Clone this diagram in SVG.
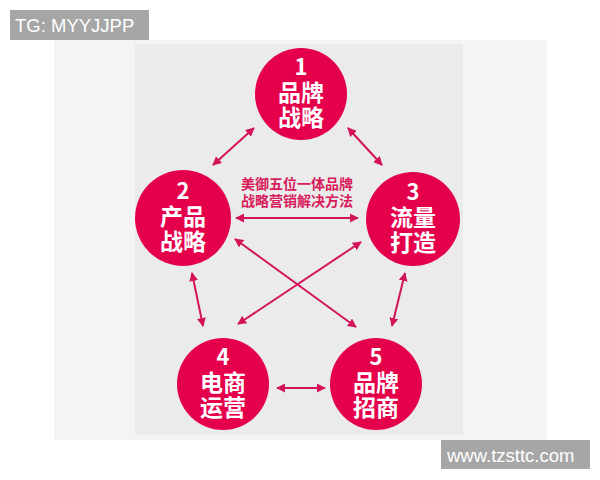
<svg xmlns="http://www.w3.org/2000/svg" width="600" height="480" viewBox="0 0 600 480">
<style>
.node{fill:#e5004c}
.lbl{font-family:"Noto Sans CJK SC",sans-serif;font-weight:700;font-size:23px;fill:#fff;text-anchor:middle}
.num{font-family:"Noto Sans CJK SC","Noto Sans",sans-serif;font-size:22px}
.mid{font-family:"Noto Sans CJK SC",sans-serif;font-weight:700;font-size:14px;fill:#d81b5a;text-anchor:middle}
.conn line{stroke:#d3145a;stroke-width:2;marker-start:url(#ah);marker-end:url(#ah)}
.tag{font-family:"Liberation Sans",Arial,sans-serif;font-size:18.5px;fill:#fff}
</style>
<defs>
<marker id="ah" viewBox="0 0 10 10" refX="9" refY="5" markerWidth="4.5" markerHeight="4.5" orient="auto-start-reverse">
<path d="M0,0 L10,5 L0,10 z" fill="#d3145a"/>
</marker>
</defs>
<rect width="600" height="480" fill="#fff"/>
<rect x="54" y="40" width="493" height="400" fill="#f4f4f4"/>
<rect x="135" y="44" width="328" height="391" fill="#ebebeb"/>
<g id="title">
<text class="mid" x="297" y="189">美御五位一体品牌<tspan x="297" y="206">战略营销解决方法</tspan></text>
</g>
<g class="conn" id="connectors">
<line x1="213" y1="165" x2="254" y2="128"/>
<line x1="382" y1="165" x2="348" y2="128"/>
<line x1="236" y1="218" x2="358" y2="218"/>
<line x1="235" y1="239" x2="356" y2="327"/>
<line x1="361" y1="242" x2="238" y2="324"/>
<line x1="192" y1="273" x2="203" y2="326"/>
<line x1="405" y1="273" x2="392" y2="326"/>
<line x1="277" y1="388" x2="325" y2="388"/>
</g>
<g id="n1">
<circle class="node" cx="301" cy="94" r="46"/>
<text class="lbl" x="301" y="75"><tspan class="num">1</tspan><tspan x="301" y="101">品牌</tspan><tspan x="301" y="126">战略</tspan></text>
</g>
<g id="n2">
<circle class="node" cx="183" cy="218" r="48"/>
<text class="lbl" x="183" y="199"><tspan class="num">2</tspan><tspan x="183" y="225">产品</tspan><tspan x="183" y="250">战略</tspan></text>
</g>
<g id="n3">
<circle class="node" cx="413" cy="219" r="47"/>
<text class="lbl" x="413" y="200"><tspan class="num">3</tspan><tspan x="413" y="226">流量</tspan><tspan x="413" y="251">打造</tspan></text>
</g>
<g id="n4">
<circle class="node" cx="223" cy="384" r="46"/>
<text class="lbl" x="223" y="365"><tspan class="num">4</tspan><tspan x="223" y="391">电商</tspan><tspan x="223" y="416">运营</tspan></text>
</g>
<g id="n5">
<circle class="node" cx="376" cy="384" r="46"/>
<text class="lbl" x="376" y="365"><tspan class="num">5</tspan><tspan x="376" y="391">品牌</tspan><tspan x="376" y="416">招商</tspan></text>
</g>
<g id="tg">
<rect x="10" y="10" width="139" height="30" fill="#a6a6a6"/>
<text class="tag" x="15" y="32">TG: MYYJJPP</text>
</g>
<g id="www">
<rect x="441" y="440" width="149" height="29" fill="#a6a6a6"/>
<text class="tag" x="447" y="462">www.tzsttc.com</text>
</g>
</svg>
